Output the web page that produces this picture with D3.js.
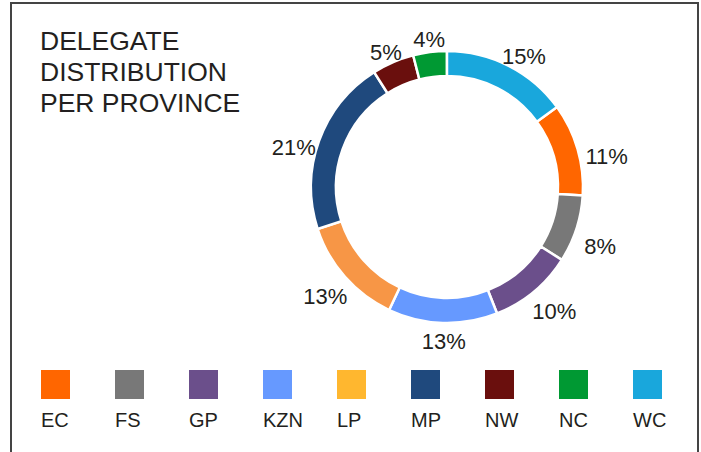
<!DOCTYPE html>
<html>
<head>
    <meta charset='utf-8'/>
    <title>Delegate distribution per province</title>
    <script src="https://d3js.org/d3.v7.min.js"></script>
    <style>
        body {
            margin: 0;
            background: #ffffff;
            font-family: "Liberation Sans", Arial, Helvetica, sans-serif;
        }
        svg text {
            fill: #231f20;
        }
    </style>
</head>
<body>
<div id="chart"></div>

<script>
    // data, legend order
    var provinces = ["EC", "FS", "GP", "KZN", "LP", "MP", "NW", "NC", "WC"];
    var shares = [11, 8, 10, 13, 13, 21, 5, 4, 15];
    var legendColors = ["#ff6600", "#787878", "#6b4f8b", "#6699ff", "#ffb72f", "#1f497d", "#6a0f0d", "#009933", "#19a7dc"];
    // the LP ring slice is drawn in a softer orange than its legend swatch
    var sliceColors = ["#ff6600", "#787878", "#6b4f8b", "#6699ff", "#f79646", "#1f497d", "#6a0f0d", "#009933", "#19a7dc"];
    var titleLines = ["DELEGATE", "DISTRIBUTION", "PER PROVINCE"];

    var width = 701,
        height = 452;

    var svg = d3.select("#chart").append("svg")
        .attr("width", width)
        .attr("height", height);

    // frame (open at the bottom)
    svg.append("path")
        .attr("d", "M11," + height + "V3H698V" + height)
        .attr("fill", "none")
        .attr("stroke", "#444444")
        .attr("stroke-width", 2);

    // title
    svg.append("text")
        .attr("x", 40)
        .attr("y", 50)
        .style("font-size", "26.5px")
        .selectAll("tspan")
        .data(titleLines).enter()
        .append("tspan")
          .attr("x", 40)
          .attr("dy", function(d, i) { return i === 0 ? 0 : 31; })
          .text(function(d) { return d; });

    // donut
    var cx = 447, cy = 187,
        outerR = 136, innerR = 111;

    var data = provinces.map(function(p, i) {
        return {name: p, value: shares[i], color: sliceColors[i]};
    });
    var total = d3.sum(shares);
    // WC sits last in the legend but starts the ring at 12 o'clock
    var start = 2 * Math.PI * shares[shares.length - 1] / total;

    var pie = d3.pie()
        .sort(null)
        .value(function(d) { return d.value; })
        .startAngle(start)
        .endAngle(start + 2 * Math.PI);

    var arc = d3.arc().innerRadius(innerR).outerRadius(outerR);

    var g = svg.append("g").attr("transform", "translate(" + cx + "," + cy + ")");
    var arcs = pie(data);

    g.selectAll("path.slice")
        .data(arcs).enter()
        .append("path")
          .attr("class", "slice")
          .attr("d", arc)
          .attr("fill", function(d) { return d.data.color; })
          .attr("stroke", "#ffffff")
          .attr("stroke-width", 2.5);

    // percent labels outside the ring, side labels sit a little lower
    var labelR = 143, labelFont = 22;
    g.selectAll("text.pct")
        .data(arcs).enter()
        .append("text")
          .attr("class", "pct")
          .style("font-size", labelFont + "px")
          .attr("text-anchor", "middle")
          .attr("dominant-baseline", "central")
          .text(function(d) { return d.data.value + "%"; })
          .attr("transform", function(d) {
              var a = (d.startAngle + d.endAngle) / 2;
              var s = Math.sin(a), c = Math.cos(a);
              var halfW = this.getComputedTextLength() / 2;
              var x = (labelR + halfW) * s + 2;
              var y = -(labelR + 9) * c + 3 + 10 * s * s;
              return "translate(" + x + "," + y + ")";
          });

    // legend
    var legendX = d3.scalePoint()
        .domain(provinces)
        .range([41, 633]);

    var legend = svg.append("g").attr("class", "legend")
        .selectAll("g")
        .data(provinces).enter()
        .append("g")
          .attr("transform", function(d) { return "translate(" + legendX(d) + ",370)"; });

    legend.append("rect")
        .attr("width", 29)
        .attr("height", 29)
        .attr("fill", function(d, i) { return legendColors[i]; });

    legend.append("text")
        .attr("y", 57)
        .style("font-size", "20px")
        .text(function(d) { return d; });
</script>
</body>
</html>
